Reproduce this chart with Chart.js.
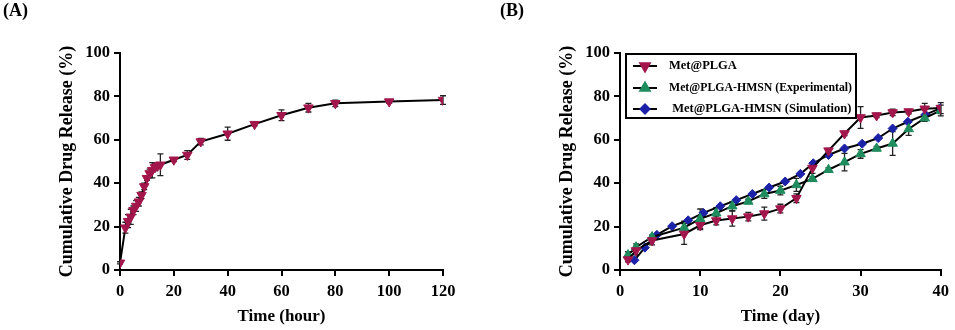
<!DOCTYPE html>
<html>
<head>
<meta charset="utf-8">
<script src="https://cdn.jsdelivr.net/npm/chart.js@4.4.1/dist/chart.umd.min.js"></script>
<style>
  body { margin: 0; background: #fff; width: 955px; height: 330px; overflow: hidden; position: relative; }
  .panel { position: absolute; top: 0; height: 330px; }
  .tag { position: absolute; top: 0; font: bold 18px "Liberation Serif", "Times New Roman", serif; color: #000; line-height: 20px; }
</style>
</head>
<body>
<div class="panel" style="left:0;width:477px"><canvas id="chartA" width="477" height="330"></canvas></div>
<div class="panel" style="left:477px;width:478px"><canvas id="chartB" width="478" height="330"></canvas></div>
<div class="tag" style="left:3px">(A)</div>
<div class="tag" style="left:500px">(B)</div>
<script>
// ===== Данные панели (A) =====
const hoursA   = [0, 2, 3, 4, 5, 6, 7, 8, 9, 10, 11, 12, 13, 14, 15, 20, 25, 30, 40, 50, 60, 70, 80, 100, 120];
const releaseA = [3.3, 19.5, 22.5, 24.5, 27.5, 29.5, 31.5, 34.5, 38.5, 42.3, 44.5, 46, 47.3, 48, 48.5, 50.8, 53, 59.2, 62.8, 67.2, 71.3, 74.8, 76.8, 77.6, 78.3];
const errA     = [0.5, 2.5, 3, 3.5, 2, 2.5, 2, 1.5, 1.5, 1, 2, 3.5, 1.5, 1, 5, 0.8, 2, 1.5, 3, 0.8, 2.5, 2, 1.5, 0.8, 2];

// ===== Данные панели (B) =====
const daysB        = [1, 2, 4, 8, 10, 12, 14, 16, 18, 20, 22, 24, 26, 28, 30, 32, 34, 36, 38, 40];
const releasePLGA  = [4.8, 9, 13.6, 16.6, 20.6, 22.8, 23.7, 24.6, 26, 28.3, 33.1, 47, 55, 62.9, 70.3, 71.2, 72.6, 73, 74.3, 74.6];
const errPLGA      = [1, 2, 2, 4.8, 2, 2, 3.5, 2, 3, 2, 2, 2.5, 1, 1, 5, 1, 1.5, 1, 2.5, 2.5];
const releaseExp   = [6.9, 10.5, 15.2, 19.5, 23.6, 26.2, 29.4, 31.6, 35, 36.6, 39.2, 42, 46.2, 49.7, 53.5, 56, 58.3, 65, 70, 73.5];
const errExp       = [1.5, 1.5, 1, 3, 4.5, 2.5, 2, 1, 2, 2, 3, 1, 1, 4, 2, 1, 5.5, 3, 1.5, 2.5];
const daysSim      = [1.8, 3.1, 4.6, 6.5, 8.5, 10.4, 12.5, 14.5, 16.5, 18.6, 20.6, 22.5, 24.1, 26, 28, 30.2, 32.2, 34, 35.9, 38.1, 40];
const releaseSim   = [4.5, 10.3, 16.2, 20.2, 22.9, 26.3, 29.4, 32.2, 35, 38, 40.8, 44.3, 49.2, 53, 56, 58.2, 60.8, 65.2, 68.3, 71.6, 74.6];

const legendLabels = ['Met@PLGA', 'Met@PLGA-HMSN (Experimental)', ' Met@PLGA-HMSN (Simulation)'];

const RED = '#a3164c', GREEN = '#1f8c5e', BLUE = '#1c22a8';
const SERIF = '"Liberation Serif", "Times New Roman", serif';

function toPoints(xs, ys) {
    return xs.map((x, i) => ({ x: x, y: ys[i] }));
}

// ===== Планки погрешностей =====
const errorBars = {
    id: 'errorBars',
    beforeDatasetsDraw(chart) {
        const ctx = chart.ctx;
        const yScale = chart.scales.y;
        ctx.save();
        ctx.strokeStyle = '#222';
        ctx.lineWidth = 1.3;
        chart.data.datasets.forEach((ds, i) => {
            if (!ds.errors) return;
            const meta = chart.getDatasetMeta(i);
            meta.data.forEach((pt, j) => {
                const e = ds.errors[j];
                if (!e) return;
                const v = ds.data[j].y;
                const top = yScale.getPixelForValue(v + e);
                const bot = yScale.getPixelForValue(v - e);
                ctx.beginPath();
                ctx.moveTo(pt.x, top); ctx.lineTo(pt.x, bot);
                ctx.moveTo(pt.x - 3, top); ctx.lineTo(pt.x + 3, top);
                ctx.moveTo(pt.x - 3, bot); ctx.lineTo(pt.x + 3, bot);
                ctx.stroke();
            });
        });
        ctx.restore();
    }
};

// ===== Легенда в рамке (панель B) =====
const boxLegend = {
    id: 'boxLegend',
    afterDraw(chart) {
        const ctx = chart.ctx;
        ctx.save();
        ctx.strokeStyle = '#000';
        ctx.lineWidth = 2;
        ctx.strokeRect(149, 54, 230, 64);
        const rows = [66, 88, 109];
        ctx.font = 'bold 12.5px ' + SERIF;
        ctx.textBaseline = 'middle';
        ctx.fillStyle = '#000';
        chart.data.datasets.forEach((ds, i) => {
            const y = rows[i];
            ctx.beginPath();
            ctx.lineWidth = 2;
            ctx.strokeStyle = '#000';
            ctx.moveTo(156, y); ctx.lineTo(180, y);
            ctx.stroke();
            ctx.fillStyle = ds.pointBackgroundColor;
            ctx.strokeStyle = ds.pointBackgroundColor;
            Chart.helpers.drawPoint(ctx, {
                pointStyle: ds.pointStyle, radius: ds.pointRadius,
                rotation: ds.pointRotation || 0, borderWidth: 1
            }, 168, y);
            ctx.fillStyle = '#000';
            ctx.fillText(legendLabels[i], 192, y, 183);
        });
        ctx.restore();
    }
};

function axis(min, max, step, title, isY, fitSize, titlePad) {
    return {
        type: 'linear',
        min: min, max: max,
        ticks: {
            stepSize: step,
            color: '#000',
            padding: isY ? 4 : 6,
            font: { family: SERIF, weight: 'bold', size: 16.5 }
        },
        grid: { drawOnChartArea: false, drawTicks: true, tickLength: 6, color: '#000', lineWidth: 2 },
        border: { display: true, color: '#000', width: 2 },
        title: {
            display: true, text: title, color: '#000',
            font: { family: SERIF, weight: 'bold', size: isY ? 18 : 17 },
            padding: isY ? { top: titlePad } : { bottom: titlePad }
        },
        afterFit(scale) {
            if (isY) scale.width = fitSize; else scale.height = fitSize;
        }
    };
}

function lineSet(points, color, style, rotation, errors) {
    return {
        data: points,
        borderColor: '#000',
        borderWidth: 2,
        tension: 0,
        pointStyle: style,
        pointRotation: rotation,
        pointRadius: style === 'rectRot' ? 4.5 : 5.5,
        pointBackgroundColor: color,
        pointBorderColor: color,
        pointBorderWidth: 1,
        errors: errors
    };
}

document.addEventListener('DOMContentLoaded', function() {
    new Chart(document.getElementById('chartA'), {
        type: 'line',
        data: {
            datasets: [lineSet(toPoints(hoursA, releaseA), RED, 'triangle', 180, errA)]
        },
        options: {
            responsive: false,
            animation: false,
            layout: { padding: { top: 53, right: 34, left: 0, bottom: 0 } },
            plugins: { legend: { display: false }, tooltip: { enabled: false } },
            scales: {
                x: axis(0, 120, 20, 'Time (hour)', false, 60, 3),
                y: axis(0, 100, 20, 'Cumulative Drug Release (%)', true, 120, 57)
            }
        },
        plugins: [errorBars]
    });

    new Chart(document.getElementById('chartB'), {
        type: 'line',
        data: {
            datasets: [
                lineSet(toPoints(daysB, releasePLGA), RED, 'triangle', 180, errPLGA),
                lineSet(toPoints(daysB, releaseExp), GREEN, 'triangle', 0, errExp),
                lineSet(toPoints(daysSim, releaseSim), BLUE, 'rectRot', 0, null)
            ]
        },
        options: {
            responsive: false,
            animation: false,
            layout: { padding: { top: 53, right: 12, left: 0, bottom: 0 } },
            plugins: { legend: { display: false }, tooltip: { enabled: false } },
            scales: {
                x: axis(0, 40, 10, 'Time (day)', false, 60, 3),
                y: axis(0, 100, 20, 'Cumulative Drug Release (%)', true, 143, 80)
            }
        },
        plugins: [errorBars, boxLegend]
    });
});
</script>
</body>
</html>
